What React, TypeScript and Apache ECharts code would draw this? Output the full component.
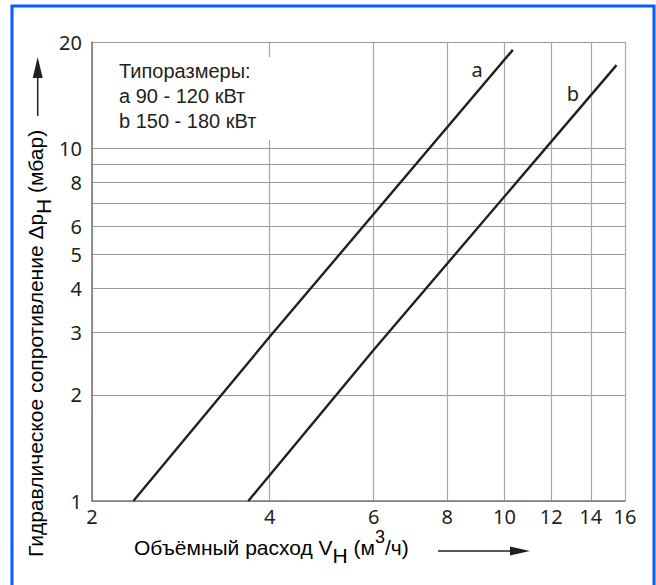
import React, { useEffect, useRef } from "react";
import * as echarts from "echarts";

const V_A = [2.35, 4.0, 10.33];
const P_A = [1, 2.92, 19.0];
const V_B = [3.68, 6.0, 15.48];
const P_B = [1, 2.68, 17.2];

const X_GRID = [2, 4, 6, 8, 10, 12, 14, 16];
const X_LABELS = [2, 4, 6, 8, 10, 12, 14, 16];
const Y_GRID = [1, 2, 3, 4, 5, 6, 7, 8, 9, 10, 20];
const Y_LABELS = [1, 2, 3, 4, 5, 6, 8, 10, 20];

const LEGEND_LINES = ["Типоразмеры:", "a 90 - 120 кВт", "b 150 - 180 кВт"];

const FONT = "'Liberation Sans', Arial, sans-serif";
const TICK_FONT = "'Noto Sans', 'Liberation Sans', sans-serif";
const INK = "#231f20";

export default function App() {
  const ref = useRef<HTMLDivElement>(null);
  useEffect(() => {
    if (!ref.current) return;
    const chart = echarts.init(ref.current, undefined, { renderer: "svg" });
    const toPts = (v: number[], p: number[]) => v.map((x, i) => [Math.log2(x), Math.log10(p[i])]);
    const txtRich = (size: number) => ({
      n: { fontSize: size, fontFamily: FONT, color: INK, verticalAlign: "bottom", padding: [0, 0, 8, 0] },
      s: { fontSize: size, fontFamily: FONT, color: INK, verticalAlign: "bottom", padding: [0, 0, 0, 0] },
      p: { fontSize: size - 3, fontFamily: FONT, color: INK, verticalAlign: "bottom", padding: [0, 0, 20, 0] },
    });
    chart.setOption({
      animation: false,
      backgroundColor: "#ffffff",
      grid: { left: 92, right: 31, top: 42, bottom: 84, containLabel: false },
      xAxis: {
        type: "value",
        min: 1,
        max: 4,
        axisLine: { show: true, lineStyle: { color: "#7a7a7a", width: 1.5 } },
        axisTick: { show: false, customValues: X_GRID.map((v) => Math.log2(v)) },
        axisLabel: {
          customValues: X_LABELS.map((v) => Math.log2(v)),
          formatter: (v: number) => String(Math.round(Math.pow(2, v))),
          fontSize: 20,
          fontFamily: TICK_FONT,
          color: INK,
          margin: 5,
        },
        splitLine: { show: true, lineStyle: { color: "#a8a8a8", width: 1.2 } },
      },
      yAxis: {
        type: "value",
        min: 0,
        max: Math.log10(20),
        axisLine: { show: true, lineStyle: { color: "#7a7a7a", width: 1.5 } },
        axisTick: { show: false, customValues: Y_GRID.map((v) => Math.log10(v)) },
        axisLabel: {
          customValues: Y_LABELS.map((v) => Math.log10(v)),
          formatter: (v: number) => String(Math.round(Math.pow(10, v))),
          fontSize: 20,
          fontFamily: TICK_FONT,
          color: INK,
          margin: 10,
        },
        splitLine: { show: true, lineStyle: { color: "#999999", width: 1.2 } },
      },
      series: [
        {
          type: "line",
          data: toPts(V_A, P_A),
          symbol: "none",
          lineStyle: { color: INK, width: 2.4 },
          z: 5,
        },
        {
          type: "line",
          data: toPts(V_B, P_B),
          symbol: "none",
          lineStyle: { color: INK, width: 2.4 },
          z: 5,
        },
      ],
      graphic: [
        {
          type: "rect",
          z: 10,
          shape: { x: 12, y: 6, width: 642, height: 620 },
          style: { fill: "none", stroke: "#0a58ff", lineWidth: 3 },
        },
        {
          type: "rect",
          z: 10,
          shape: { x: 105, y: 57, width: 180, height: 83 },
          style: { fill: "#ffffff", stroke: "none" },
        },
        {
          type: "text",
          z: 11,
          x: 119,
          y: 58,
          style: {
            text: LEGEND_LINES.join("\n"),
            fontSize: 20,
            lineHeight: 25,
            fontFamily: FONT,
            fill: INK,
            verticalAlign: "top",
          },
        },
        {
          type: "text",
          z: 11,
          x: 477,
          y: 69,
          style: { text: "a", fontSize: 20, fontFamily: TICK_FONT, fill: INK, align: "center", verticalAlign: "middle" },
        },
        {
          type: "text",
          z: 11,
          x: 573,
          y: 93,
          style: { text: "b", fontSize: 20, fontFamily: TICK_FONT, fill: INK, align: "center", verticalAlign: "middle" },
        },
        // X axis title
        {
          type: "text",
          z: 11,
          x: 134,
          y: 566,
          style: {
            text: "{n|Объёмный расход V}{s|Н}{n| (м}{p|3}{n|/ч)}",
            rich: txtRich(21),
            align: "left",
            verticalAlign: "bottom",
          },
        },
        {
          type: "line",
          z: 11,
          shape: { x1: 438, y1: 551, x2: 512, y2: 551 },
          style: { stroke: INK, lineWidth: 1.5 },
        },
        {
          type: "polygon",
          z: 11,
          shape: { points: [[510, 546.5], [530, 551], [510, 555.5]] },
          style: { fill: INK },
        },
        // Y axis title
        {
          type: "text",
          z: 11,
          x: 54,
          y: 557,
          rotation: Math.PI / 2,
          style: {
            text: "{n|Гидравлическое сопротивление Δp}{s|Н}{n| (мбар)}",
            rich: txtRich(21),
            align: "left",
            verticalAlign: "bottom",
          },
        },
        {
          type: "line",
          z: 11,
          shape: { x1: 37.7, y1: 116, x2: 37.7, y2: 76 },
          style: { stroke: INK, lineWidth: 1.5 },
        },
        {
          type: "polygon",
          z: 11,
          shape: { points: [[32.7, 78], [37.7, 57], [42.7, 78]] },
          style: { fill: INK },
        },
      ],
    });
    return () => chart.dispose();
  }, []);
  return <div ref={ref} style={{ width: 656, height: 585, position: "absolute", left: 0, top: 0 }} />;
}
